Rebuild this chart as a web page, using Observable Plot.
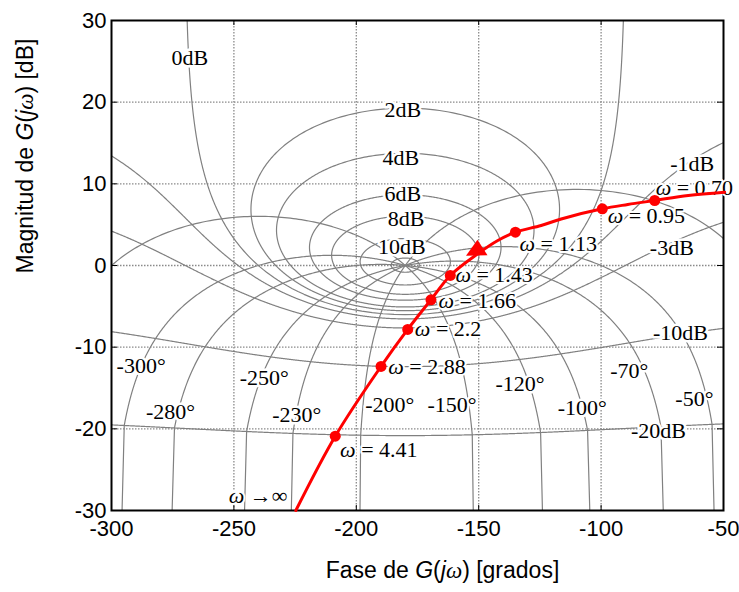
<!DOCTYPE html>
<html><head><meta charset="utf-8">
<script src="https://cdn.jsdelivr.net/npm/d3@7"></script>
<script src="https://cdn.jsdelivr.net/npm/@observablehq/plot@0.6"></script>
<style>body{margin:0;background:#fff} svg{display:block}</style>
</head><body><div id="chart"></div>
<script>
// ---------- data ----------
const xTicks = [-300, -250, -200, -150, -100, -50];
const yTicks = [-30, -20, -10, 0, 10, 20, 30];
const xGrid = [-250, -200, -150, -100];
const yGrid = [-20, -10, 0, 10, 20];

// closed-loop magnitude contour levels drawn (dB)
const mContours = [0, 1, 2, 4, 6, 10, 20, -1, -3, -10, -20];
const mLabels = ["0dB", "2dB", "4dB", "6dB", "8dB", "10dB", "-1dB", "-3dB", "-10dB", "-20dB"];
const mLabelPhase = [-268.0, -181.0, -181.8, -181.0, -179.7, -181.4, -62.8, -71.1, -67.6, -76.6];
const mLabelGain = [25.4, 19.0, 13.2, 8.8, 5.7, 2.3, 12.4, 2.1, -8.3, -20.2];

// closed-loop phase contour levels drawn (degrees)
const nContours = [-20, -50, -70, -100, -120, -150, -200, -230, -250, -280, -300, -330];
const nLabels = ["-300°", "-280°", "-250°", "-230°", "-200°", "-150°", "-120°", "-100°", "-70°", "-50°"];
const nLabelPhase = [-287.9, -275.9, -237.6, -224.3, -186.3, -160.9, -133.1, -107.7, -88.5, -61.9];
const nLabelGain = [-12.3, -17.9, -13.8, -18.3, -17.1, -17.1, -14.5, -17.5, -12.9, -16.3];

// open-loop frequency response G(jw)
const curvePhase = [-49.5, -64.4, -78.1, -89.1, -99.5, -116.3, -124.5, -135.0, -142.2, -150.4, -161.6, -169.5, -179.0, -189.9, -208.6, -224.7];
const curveGain  = [8.97, 8.57, 7.96, 7.47, 6.94, 5.7, 4.9, 4.08, 3.06, 1.43, -1.22, -4.2, -7.83, -12.36, -20.9, -30.0];

const markerOmega = ["0.70", "0.95", "1.13", "1.43", "1.66", "2.2", "2.88", "4.41"];
const markerPhase = [-78.1, -99.5, -135.0, -161.6, -169.5, -179.0, -189.9, -208.6];
const markerGain  = [7.96, 6.94, 4.08, -1.22, -4.2, -7.83, -12.36, -20.9];

const omegaLabels = ["ω = 0.70", "ω = 0.95", "ω = 1.13", "ω = 1.43", "ω = 1.66", "ω = 2.2", "ω = 2.88", "ω = 4.41", "ω →∞"];
const omegaLabelPhase = [-61.9, -81.5, -117.5, -143.7, -150.6, -162.5, -171.1, -190.8, -240.1];
const omegaLabelGain  = [9.55, 6.1, 2.6, -1.2, -4.3, -7.8, -12.4, -22.6, -28.2];

const arrowPhase = [-150.7];
const arrowGain = [1.86];

// ---------- Nichols grid geometry ----------
const rad = Math.PI / 180;
function mContour(db) {
  const pts = [];
  if (db === 0) {
    for (let i = 0; i <= 2000; i++) {
      const y = -40 + 80 * i / 2000;
      let p = Math.atan2(y, -0.5) / rad; if (p > 0) p -= 360;
      pts.push({p, g: 20 * Math.log10(Math.hypot(0.5, y)), id: "m0"});
    }
    return pts;
  }
  const M = Math.pow(10, db / 20);
  for (let i = 0; i <= 1440; i++) {
    const a = (M < 1 ? -360 * i / 1440 : -180 + 360 * i / 1440) * rad;
    const tr = M * Math.cos(a), ti = M * Math.sin(a);
    const dr = 1 - tr, di = -ti, den = dr * dr + di * di;
    const lr = (tr * dr + ti * di) / den, li = (ti * dr - tr * di) / den;
    let p;
    if (M < 1) p = a / rad - Math.atan2(di, dr) / rad;
    else { p = Math.atan2(li, lr) / rad; if (p > 0) p -= 360; }
    pts.push({p, g: 20 * Math.log10(Math.hypot(lr, li)), id: "m" + db});
  }
  return pts;
}
function nContour(theta) {
  const pts = [], th = theta * rad;
  const rs = [1e-4];
  for (let i = 0; i <= 800; i++) rs.push(Math.pow(10, -1 + 5 * i / 800));
  for (const r of rs) {
    const tr = r * Math.cos(th), ti = r * Math.sin(th);
    const dr = 1 - tr, di = -ti;
    pts.push({p: theta - Math.atan2(di, dr) / rad, g: 20 * Math.log10(r / Math.hypot(dr, di)), id: "n" + theta});
  }
  return pts;
}
const gridCurves = [...mContours.flatMap(mContour), ...nContours.flatMap(nContour)];

const zip = (a, b, c) => a.map((v, i) => ({p: v, g: b[i], t: c ? c[i] : null}));
const curve = zip(curvePhase, curveGain);
const markers = zip(markerPhase, markerGain, markerOmega);
const mLab = zip(mLabelPhase, mLabelGain, mLabels);
const nLab = zip(nLabelPhase, nLabelGain, nLabels);
const wLab = zip(omegaLabelPhase, omegaLabelGain, omegaLabels);
const arrow = zip(arrowPhase, arrowGain);

// arrowhead symbol: filled triangle pointing down-left along the curve
const arrowHead = {
  draw(ctx, size) {
    const k = Math.sqrt(size / (Math.PI * 49));
    ctx.moveTo(-11 * k, 5.5 * k);
    ctx.lineTo(0.5 * k, -10.5 * k);
    ctx.lineTo(10.5 * k, 5 * k);
    ctx.closePath();
  }
};

const serif = "Liberation Serif, Times New Roman, serif";
const sans = "Liberation Sans, Arial, sans-serif";
const gray = "#808080";

const svg = Plot.plot({
  width: 739, height: 592,
  marginLeft: 111, marginRight: 16, marginTop: 20, marginBottom: 82,
  style: {fontFamily: sans, fontSize: "22px", background: "white", overflow: "visible"},
  x: {domain: [-300, -50]},
  y: {domain: [-30, 30]},
  marks: [
    Plot.ruleX(xGrid, {stroke: "#8a8a8a", strokeWidth: 1.3, strokeDasharray: "1.5,1.5"}),
    Plot.ruleY(yGrid, {stroke: "#8a8a8a", strokeWidth: 1.3, strokeDasharray: "1.5,1.5"}),
    Plot.line(gridCurves, {x: "p", y: "g", z: "id", stroke: gray, strokeWidth: 1.2, clip: true}),
    Plot.frame({stroke: "black", strokeWidth: 2}),
    Plot.tickX(xTicks, {x: d => d, insetTop: 485, stroke: "black"}),
    Plot.tickX(xTicks, {x: d => d, insetBottom: 485, stroke: "black"}),
    Plot.tickY(yTicks, {y: d => d, insetRight: 606, stroke: "black"}),
    Plot.tickY(yTicks, {y: d => d, insetLeft: 606, stroke: "black"}),
    Plot.axisX(xTicks, {tickSize: 0, tickPadding: 10, tickFormat: d => String(d), label: null, fontSize: 22}),
    Plot.axisY(yTicks, {tickSize: 0, tickPadding: 5, tickFormat: d => String(d), label: null, fontSize: 22}),
    Plot.text(mLab, {x: "p", y: "g", text: "t", fontFamily: serif, fontSize: 22, fill: "black", stroke: "white", strokeWidth: 5}),
    Plot.text(nLab, {x: "p", y: "g", text: "t", fontFamily: serif, fontSize: 22, fill: "black", stroke: "white", strokeWidth: 5}),
    Plot.text(wLab, {x: "p", y: "g", text: "t", fontFamily: serif, fontSize: 22, fill: "black", stroke: "white", strokeWidth: 4}),
    Plot.line(curve, {x: "p", y: "g", stroke: "#ff0000", strokeWidth: 3, curve: "catmull-rom"}),
    Plot.dot(markers, {x: "p", y: "g", r: 5.5, fill: "#ff0000", stroke: "none"}),
    Plot.dot(arrow, {x: "p", y: "g", r: 7, symbol: arrowHead, fill: "#ff0000", stroke: "none"}),
    Plot.text(["Fase de G(jω) [grados]"], {frameAnchor: "bottom", dx: 25, dy: 67, fontFamily: sans, fontSize: 23, fill: "black"}),
    Plot.text(["Magnitud de G(jω) [dB]"], {frameAnchor: "left", rotate: -90, dx: -86, dy: 8, fontFamily: sans, fontSize: 23, fill: "black"})
  ]
});

// rich text (italic parts)
const NS = "http://www.w3.org/2000/svg";
function rich(el, parts) {
  el.textContent = "";
  for (const [s, it, fam] of parts) {
    const ts = document.createElementNS(NS, "tspan");
    ts.textContent = s;
    if (it) ts.setAttribute("font-style", "italic");
    if (fam) ts.setAttribute("font-family", fam);
    el.appendChild(ts);
  }
}
svg.querySelectorAll("text").forEach(el => {
  const s = el.textContent;
  if (s.startsWith("ω")) rich(el, [["ω", true], [s.slice(1), false]]);
  else if (s === "Fase de G(jω) [grados]") rich(el, [["Fase de ", false], ["G", true], ["(", false], ["j", true], ["ω", true, serif], [") [grados]", false]]);
  else if (s === "Magnitud de G(jω) [dB]") rich(el, [["Magnitud de ", false], ["G", true], ["(", false], ["j", true], ["ω", true, serif], [") [dB]", false]]);
});
document.getElementById("chart").appendChild(svg);
</script>
</body></html>
